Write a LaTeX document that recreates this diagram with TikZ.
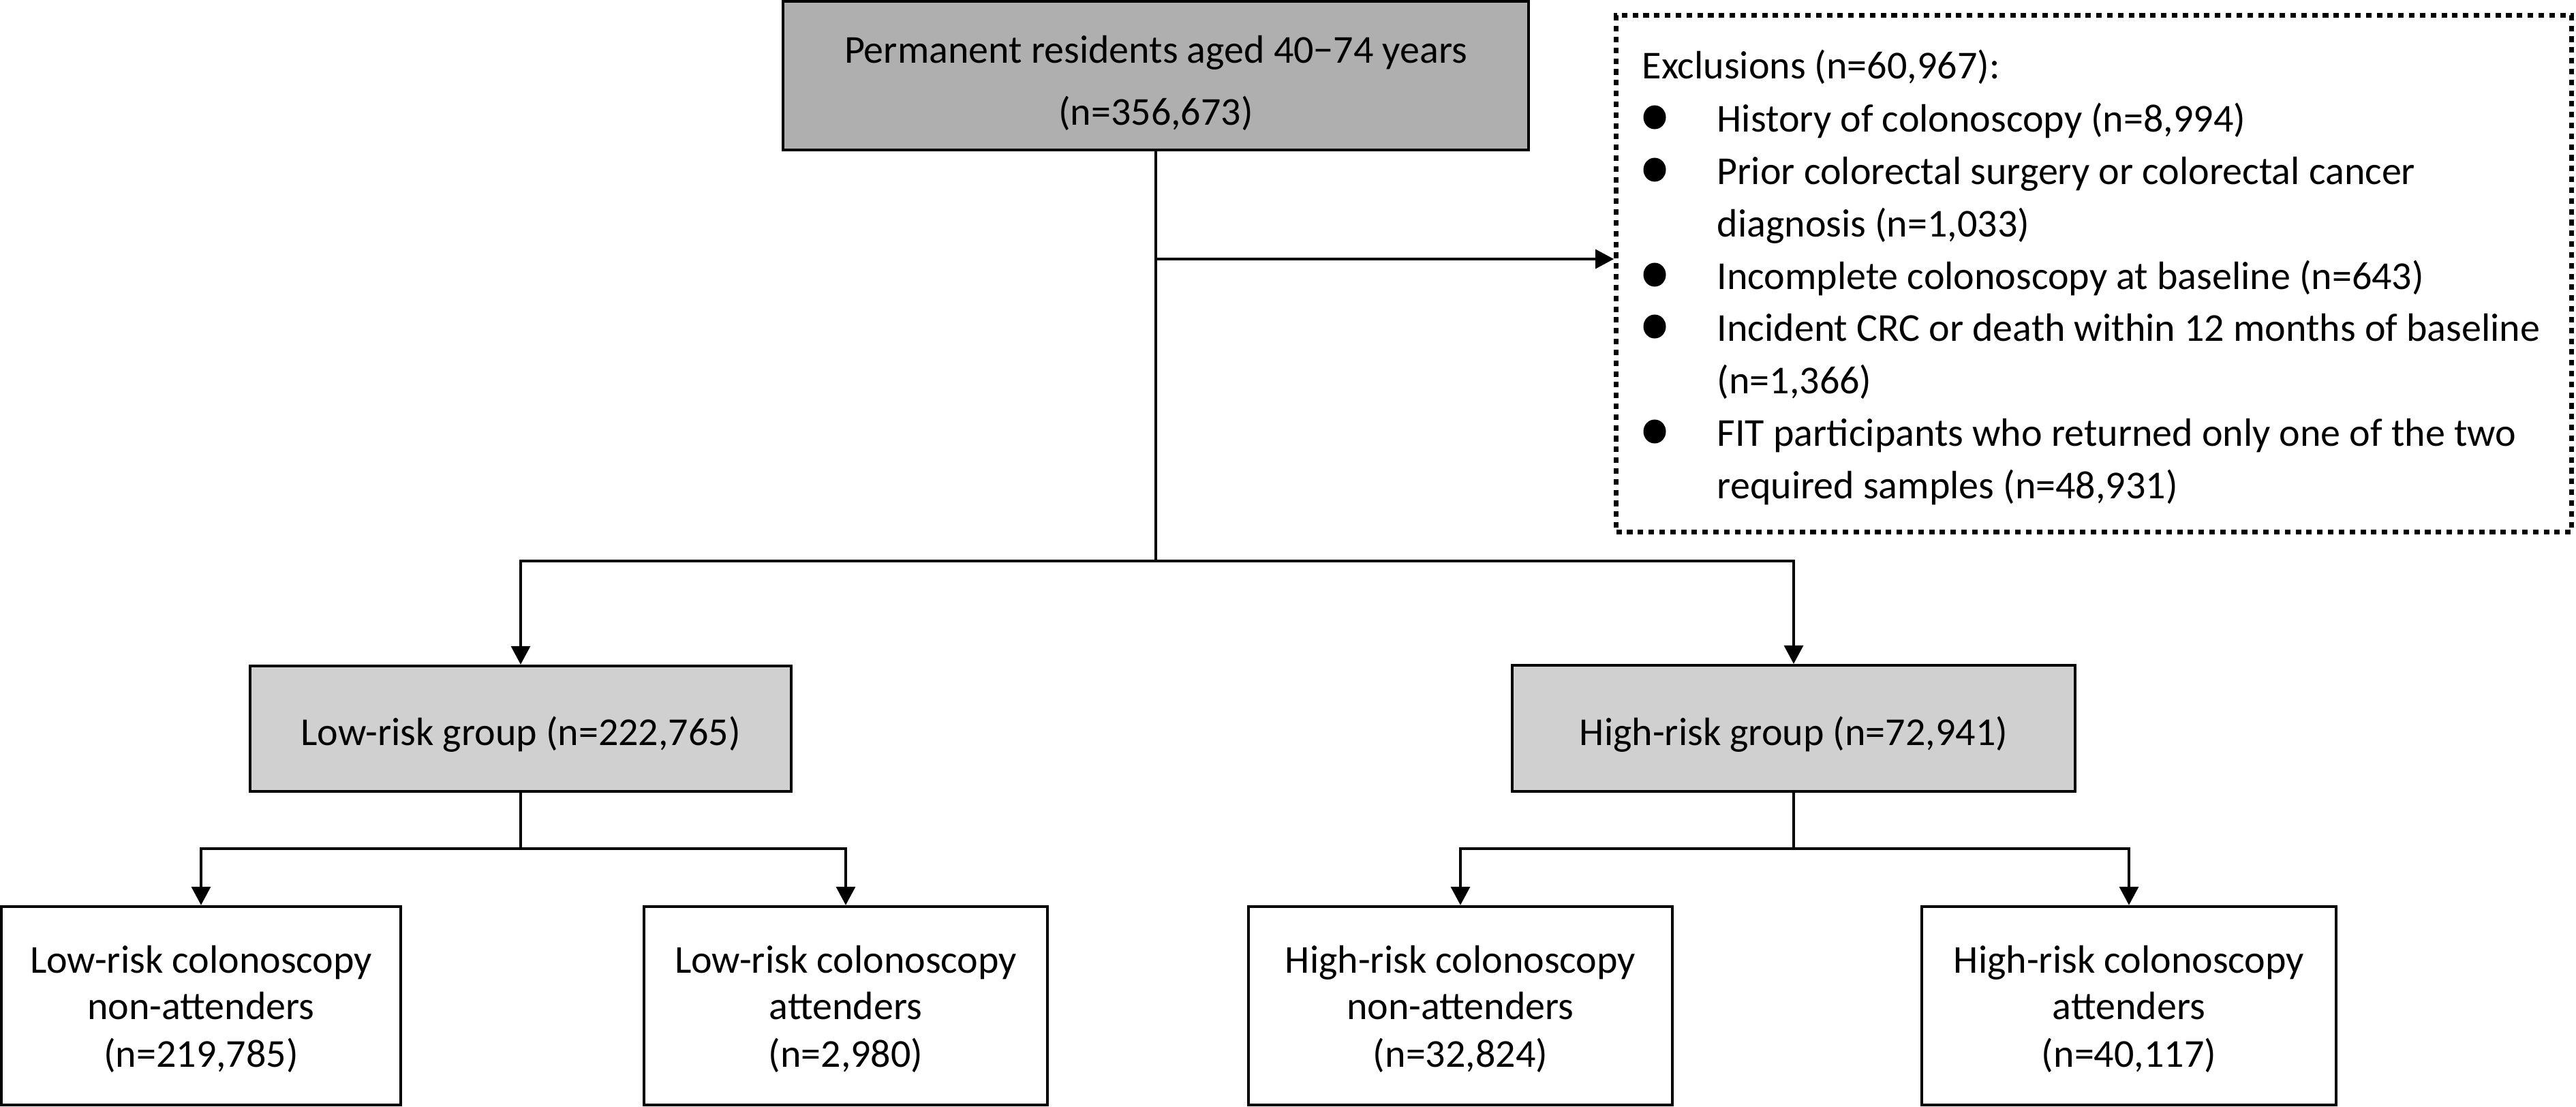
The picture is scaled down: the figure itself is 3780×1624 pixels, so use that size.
\documentclass[tikz,border=0pt]{standalone}
\usepackage{fontspec}
\setmainfont{Carlito}
\usetikzlibrary{arrows.meta}
\definecolor{topgray}{RGB}{175,175,175}
\definecolor{grpgray}{RGB}{208,208,208}
\begin{document}
\begin{tikzpicture}[x=0.01cm,y=-0.01cm,
  font=\fontsize{16.5pt}{20pt}\selectfont,
  boxnode/.style={draw=black,line width=1.2pt,rectangle,inner sep=0pt},
  dark/.style={boxnode,fill=topgray},
  light/.style={boxnode,fill=grpgray},
  plain/.style={boxnode,fill=white},
  exclbox/.style={draw=black,line width=2pt,dash pattern=on 2.3pt off 2.2pt,rectangle,inner sep=0pt},
  txt/.style={anchor=base,inner sep=0pt},
  ltxt/.style={anchor=base west,inner sep=0pt},
  conn/.style={line width=1pt},
  arr/.style={conn,-{Triangle[width=2.8mm,length=2.7mm]}},
  bullet/.style={fill=black}
]
\useasboundingbox (0,0) rectangle (3780,1624);

% top box
\node[dark, minimum width=10.93cm, minimum height=2.18cm] (top) at (1696,111) {};
\node[txt] (topA) at (1696,92) {Permanent residents aged 40\symbol{"2212}74 years};
\node[txt] (topB) at (1696,183) {(n=356,673)};

% exclusion box
\node[exclbox, minimum width=14.01cm, minimum height=7.57cm] (excl) at (3072.5,401.5) {};
\node[ltxt] (exH) at (2409,115) {Exclusions (n=60,967):};
\node[ltxt] (ex1) at (2519,193) {History of colonoscopy (n=8,994)};
\node[ltxt] (ex2a) at (2519,270) {Prior colorectal surgery or colorectal cancer};
\node[ltxt] (ex2b) at (2519,347) {diagnosis (n=1,033)};
\node[ltxt] (ex3) at (2519,424) {Incomplete colonoscopy at baseline (n=643)};
\node[ltxt] (ex4a) at (2519,500) {Incident CRC or death within 12 months of baseline};
\node[ltxt] (ex4b) at (2519,577) {(n=1,366)};
\node[ltxt] (ex5a) at (2519,654) {FIT participants who returned only one of the two};
\node[ltxt] (ex5b) at (2519,731) {required samples (n=48,931)};
\foreach \yy in {172,249,403,479,633}{
  \fill[bullet] (2428,\yy) ellipse [x radius=0.165cm, y radius=0.175cm];
}

% group boxes
\node[light, minimum width=7.94cm, minimum height=1.84cm] (low) at (764,1069) {};
\node[txt] (lowT) at (764,1093) {Low-risk group (n=222,765)};
\node[light, minimum width=8.25cm, minimum height=1.85cm] (high) at (2632,1068.5) {};
\node[txt] (highT) at (2632,1093) {High-risk group (n=72,941)};

% bottom boxes
\node[plain, minimum width=5.86cm, minimum height=2.91cm] (b1) at (295,1475.5) {};
\node[txt] (b1a) at (295,1427) {Low-risk colonoscopy};
\node[txt] (b1b) at (295,1495) {non-attenders};
\node[txt] (b1c) at (295,1565) {(n=219,785)};

\node[plain, minimum width=5.92cm, minimum height=2.91cm] (b2) at (1241,1475.5) {};
\node[txt] (b2a) at (1241,1427) {Low-risk colonoscopy};
\node[txt] (b2b) at (1241,1495) {attenders};
\node[txt] (b2c) at (1241,1565) {(n=2,980)};

\node[plain, minimum width=6.22cm, minimum height=2.91cm] (b3) at (2143,1475.5) {};
\node[txt] (b3a) at (2143,1427) {High-risk colonoscopy};
\node[txt] (b3b) at (2143,1495) {non-attenders};
\node[txt] (b3c) at (2143,1565) {(n=32,824)};

\node[plain, minimum width=6.08cm, minimum height=2.91cm] (b4) at (3124,1475.5) {};
\node[txt] (b4a) at (3124,1427) {High-risk colonoscopy};
\node[txt] (b4b) at (3124,1495) {attenders};
\node[txt] (b4c) at (3124,1565) {(n=40,117)};

% connectors
\coordinate (split) at (1696,823);
\coordinate (exsrc) at (1696,380);
\draw[conn] (top.south) -- (split);
\draw[arr] (exsrc) -- (exsrc -| excl.west);
\draw[arr] (split) -| (low.north);
\draw[arr] (split) -| (high.north);

\coordinate (lowsplit) at (764,1245);
\draw[conn] (low.south) -- (lowsplit);
\draw[arr] (lowsplit) -| (b1.north);
\draw[arr] (lowsplit) -| (b2.north);

\coordinate (highsplit) at (2632,1245);
\draw[conn] (high.south) -- (highsplit);
\draw[arr] (highsplit) -| (b3.north);
\draw[arr] (highsplit) -| (b4.north);
\end{tikzpicture}
\end{document}
